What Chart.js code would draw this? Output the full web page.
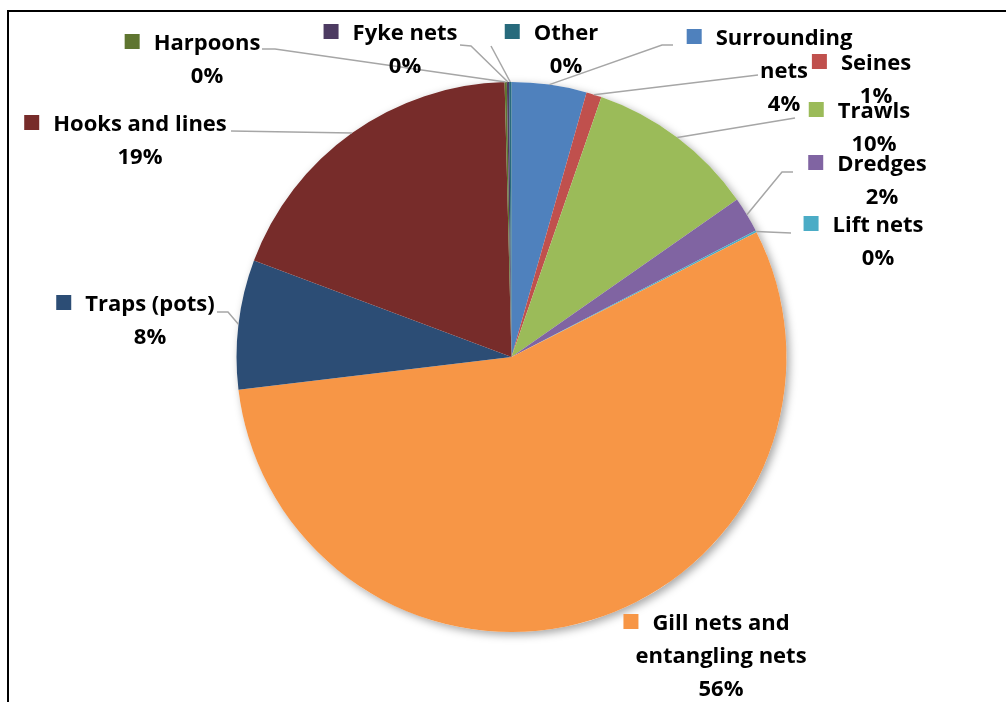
<!DOCTYPE html>
<html>
<head>
<meta charset="utf-8">
<script src="https://cdn.jsdelivr.net/npm/chart.js@4.4.1/dist/chart.umd.min.js"></script>
<style>
    html, body { margin: 0; padding: 0; background: #fff; }
    #wrap { position: relative; width: 1006px; height: 702px; }
    #frame { position: absolute; left: 7px; top: 10px; width: 1010px; height: 720px;
             border-left: 2px solid #000; border-top: 2px solid #000; }
    canvas { position: absolute; left: 0; top: 0; }
</style>
</head>
<body>
<div id="wrap">
    <div id="frame"></div>
    <canvas id="pieChart" width="1006" height="702"></canvas>
</div>
<script>
/* ================= DATA ================= */
const gearNames = [
    ["Surrounding", "nets"],
    ["Seines"],
    ["Trawls"],
    ["Dredges"],
    ["Lift nets"],
    ["Gill nets and", "entangling nets"],
    ["Traps (pots)"],
    ["Hooks and lines"],
    ["Harpoons"],
    ["Fyke nets"],
    ["Other"]
];
const gearShares = [4.4, 0.9, 10.0, 2.1, 0.1, 55.6, 7.6, 18.9, 0.13, 0.13, 0.14];
const gearColors = [
    "#4F81BD", "#C0504D", "#9BBB59", "#8064A2", "#4BACC6", "#F79646",
    "#2C4D75", "#772C2A", "#5F7530", "#4D3B62", "#276A7C"
];

/* ================= LABEL LAYOUT ================= */
// cx/cy: centre of the first text line; path: leader points from the label back toward the slice
const labelLayout = [
    { cx: 784, cy: 37, path: [[673, 45], [662, 45]] },
    { cx: 876, cy: 62, path: [[758, 75]] },
    { cx: 874, cy: 110, path: [[795, 118]] },
    { cx: 882, cy: 163, path: [[793, 172], [782, 172]] },
    { cx: 878, cy: 224, path: [[791, 233]] },
    { cx: 721, cy: 622, path: [] },
    { cx: 150, cy: 303, path: [[217, 312], [228, 312]] },
    { cx: 140, cy: 123, path: [[231, 131]] },
    { cx: 207, cy: 42, path: [[262, 49], [275, 49]] },
    { cx: 405, cy: 32, path: [[460, 45], [471, 46]] },
    { cx: 566, cy: 32, path: [[491, 46]] }
];

const total = gearShares.reduce((a, b) => a + b, 0);
const FONT = "bold 22px 'Open Sans'";
const LINE_H = 33;

/* ================= PLUGINS ================= */
const pieShadow = {
    id: "pieShadow",
    beforeDatasetsDraw(chart) {
        const arc = chart.getDatasetMeta(0).data[0];
        if (!arc) return;
        const ctx = chart.ctx;
        ctx.save();
        ctx.shadowColor = "rgba(0,0,0,0.35)";
        ctx.shadowBlur = 9;
        ctx.shadowOffsetX = 3;
        ctx.shadowOffsetY = 3;
        ctx.fillStyle = "#fff";
        ctx.beginPath();
        ctx.arc(arc.x, arc.y, arc.outerRadius, 0, Math.PI * 2);
        ctx.fill();
        ctx.restore();
    }
};

const excelLabels = {
    id: "excelLabels",
    afterDatasetsDraw(chart) {
        const ctx = chart.ctx;
        const arcs = chart.getDatasetMeta(0).data;
        ctx.save();

        /* ---- leader lines ---- */
        ctx.strokeStyle = "#A6A6A6";
        ctx.lineWidth = 1.5;
        arcs.forEach((arc, i) => {
            const lay = labelLayout[i];
            if (!lay.path.length) return;
            const mid = (arc.startAngle + arc.endAngle) / 2;
            const ex = arc.x + Math.cos(mid) * arc.outerRadius;
            const ey = arc.y + Math.sin(mid) * arc.outerRadius;
            ctx.beginPath();
            ctx.moveTo(lay.path[0][0], lay.path[0][1]);
            lay.path.slice(1).forEach(p => ctx.lineTo(p[0], p[1]));
            ctx.lineTo(ex, ey);
            ctx.stroke();
        });

        /* ---- text + key ---- */
        ctx.font = FONT;
        ctx.textBaseline = "middle";
        ctx.textAlign = "center";
        arcs.forEach((arc, i) => {
            const lay = labelLayout[i];
            const lines = gearNames[i].concat([Math.round(gearShares[i] / total * 100) + "%"]);
            const w0 = ctx.measureText(lines[0]).width;
            ctx.fillStyle = gearColors[i];
            ctx.fillRect(lay.cx - w0 / 2 - 29, lay.cy - 8, 15, 15);
            ctx.fillStyle = "#000";
            lines.forEach((t, k) => ctx.fillText(t, lay.cx, lay.cy + 2 + k * LINE_H));
        });
        ctx.restore();
    }
};

/* ================= PIE CHART ================= */
const pieCtx = document.getElementById("pieChart").getContext("2d");
const pieChart = new Chart(pieCtx, {
    type: "pie",
    data: {
        labels: gearNames.map(n => n.join(" ")),
        datasets: [{
            data: gearShares,
            backgroundColor: gearColors,
            borderWidth: 0
        }]
    },
    options: {
        responsive: false,
        animation: false,
        layout: {
            padding: { left: 236, right: 219, top: 82, bottom: 70 }
        },
        plugins: {
            legend: { display: false },
            tooltip: { enabled: false }
        }
    },
    plugins: [pieShadow, excelLabels]
});
</script>
</body>
</html>
